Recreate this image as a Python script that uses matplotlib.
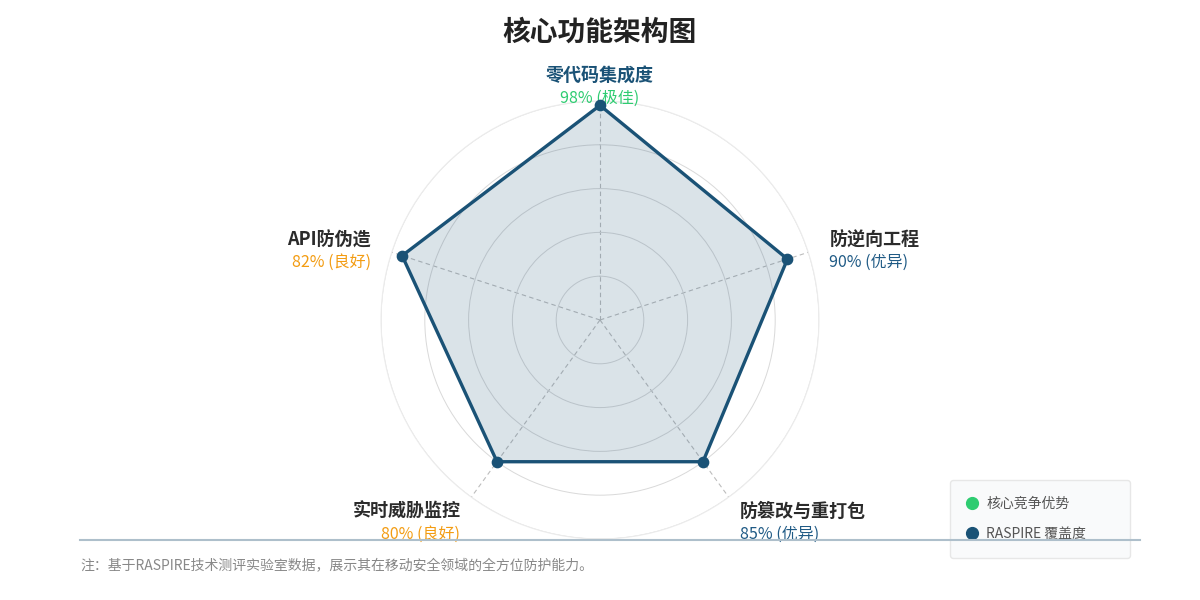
import numpy as np
import matplotlib
matplotlib.use("Agg")
import matplotlib.pyplot as plt
from matplotlib.lines import Line2D

plt.rcParams['font.family'] = ['Noto Sans CJK SC', 'DejaVu Sans']

# data, clockwise from the top
categories = ['零代码集成度', '防逆向工程', '防篡改与重打包', '实时威胁监控', 'API防伪造']
label_values = [98, 90, 85, 80, 82]      # numbers printed in the labels
plotted_values = [98, 90, 80, 80, 95]    # where the vertices sit in the picture
ratings = ['极佳', '优异', '优异', '良好', '良好']
grid_levels = [20, 40, 60, 80, 100]

rating_colors = {'极佳': '#2ecc71', '优异': '#1f5a85', '良好': '#f39c12'}
navy = '#1a5276'

fig = plt.figure(figsize=(12, 6), dpi=100)
ax = fig.add_axes([0.3175, 0.1017, 0.365, 0.73], projection='polar')

n = len(categories)
theta = np.linspace(0, 2 * np.pi, n, endpoint=False)
ax.set_theta_offset(np.pi / 2)
ax.set_theta_direction(-1)
ax.set_ylim(0, 100)

t_closed = np.append(theta, theta[0])
v_closed = np.append(plotted_values, plotted_values[0])
ax.fill(t_closed, v_closed, color=navy, alpha=0.16, zorder=2)
ax.plot(t_closed, v_closed, color=navy, lw=2.4, zorder=3)
ax.scatter(theta, plotted_values, s=55, color=navy, zorder=4, clip_on=False)

# grid
ax.set_rgrids(grid_levels, labels=[''] * len(grid_levels))
ax.set_thetagrids(np.degrees(theta), labels=[''] * n)
ax.yaxis.grid(True, color='#d9d9d9', lw=0.7)
ax.xaxis.grid(True, color='#bdbdbd', lw=0.8, ls=(0, (4, 3)))
ax.spines['polar'].set_color('#ececec')
ax.spines['polar'].set_linewidth(0.8)
ax.set_facecolor('none')

# labels: (name offset, value offset, ha) in pixels
offsets = [
    ((0, 25), (0, 3), 'center'),
    ((21, 12), (21, -10), 'left'),
    ((11, -14), (11, -37), 'left'),
    ((-11, -14), (-11, -37), 'right'),
    ((-21, 12), (-21, -10), 'right'),
]
for i, (cat, val, rt) in enumerate(zip(categories, label_values, ratings)):
    (nx, ny), (vx, vy), ha = offsets[i]
    name_color = navy if i == 0 else '#2b2b2b'
    ax.annotate(cat, xy=(theta[i], 100), xytext=(nx, ny), textcoords='offset pixels',
                ha=ha, va='center', fontsize=13, fontweight='bold', color=name_color,
                annotation_clip=False)
    ax.annotate(f'{val}% ({rt})', xy=(theta[i], 100), xytext=(vx, vy),
                textcoords='offset pixels', ha=ha, va='center', fontsize=11.5,
                color=rating_colors[rt], annotation_clip=False)

fig.text(0.5, 1 - 33 / 600, '核心功能架构图', ha='center', va='center',
         fontsize=20, fontweight='heavy', color='#222222')

# legend
handles = [
    Line2D([], [], ls='none', marker='o', ms=8.5, color='#2ecc71', label='核心竞争优势'),
    Line2D([], [], ls='none', marker='o', ms=8.5, color=navy, label='RASPIRE 覆盖度'),
]
leg = fig.legend(handles=handles, loc='upper left',
                 bbox_to_anchor=(950 / 1200, 1 - 560 / 600, 180 / 1200, 80 / 600),
                 mode='expand', borderaxespad=0, frameon=True, fontsize=10,
                 labelspacing=1.2, borderpad=1.2, handletextpad=0.6, handlelength=0.8,
                 fancybox=True)
leg.get_frame().set_facecolor('#f8f9fa')
leg.get_frame().set_edgecolor('#e2e2e2')
for t in leg.get_texts():
    t.set_color('#555555')

# separator and note
fig.add_artist(Line2D([80 / 1200, 1140 / 1200], [1 - 540 / 600] * 2, color='#aebfcb',
                      lw=1.5, zorder=10))
fig.text(80 / 1200, 1 - 565 / 600, '注：基于RASPIRE技术测评实验室数据，展示其在移动安全领域的全方位防护能力。',
         ha='left', va='center', fontsize=10, color='#888888')

fig.savefig('out.png', dpi=100, facecolor='white')
